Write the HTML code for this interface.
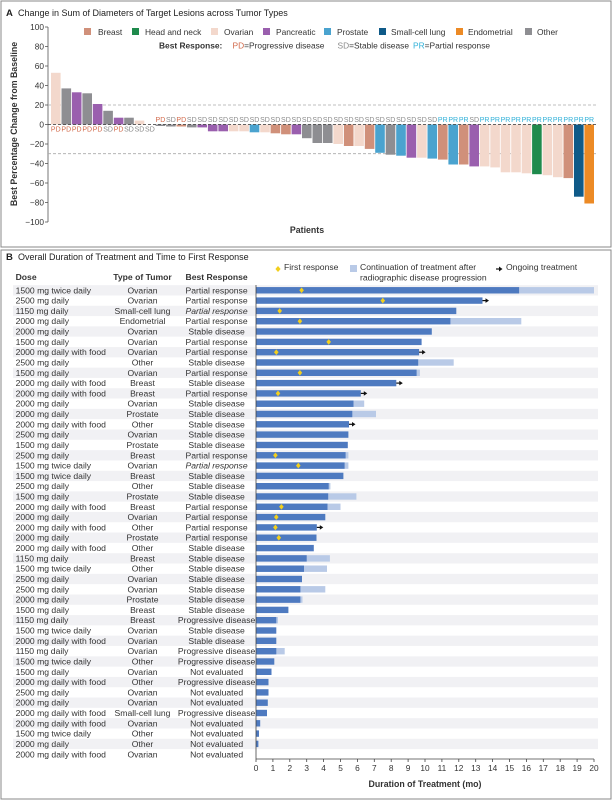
<!DOCTYPE html>
<html><head><meta charset="utf-8"><style>
html,body{margin:0;padding:0;background:#fff}
svg{display:block;font-family:"Liberation Sans",sans-serif}
.t{font-size:8.6px;fill:#333}
.c{text-anchor:middle}
.pd{fill:#d2694a;font-size:7px;text-anchor:middle}
.sd{fill:#8a8a8a;font-size:7px;text-anchor:middle}
.pr{fill:#2fb0d8;font-size:7px;text-anchor:middle}
.br{fill:#d0907a}.hn{fill:#1f8a4c}.ov{fill:#f3d8cc}.pa{fill:#9a5fae}.pro{fill:#4aa3cf}.sc{fill:#0f5a88}.en{fill:#ec8a25}.ot{fill:#8e8e92}
.d{fill:#4e7ac0}.l{fill:#b9cae7}.s{fill:#f1f1f4}.fr{fill:#f2cf1d}
</style></head><body>
<svg width="612" height="800" viewBox="0 0 612 800" xmlns="http://www.w3.org/2000/svg">
<rect x="1" y="1" width="610" height="246" fill="none" stroke="#8a8a8a" stroke-width="1"/>
<rect x="1" y="250" width="610" height="549" fill="none" stroke="#8a8a8a" stroke-width="1"/>
<!-- Panel A -->
<text x="6" y="16" style="font-size:9.5px;font-weight:bold" fill="#222">A</text>
<text x="18" y="16" style="font-size:9px" fill="#222">Change in Sum of Diameters of Target Lesions across Tumor Types</text>
<line x1="48" y1="27" x2="48" y2="222" stroke="#555" stroke-width="0.8"/>
<g class="t" style="font-size:8.3px;text-anchor:end">
<text x="44" y="30">100</text><text x="44" y="49.5">80</text><text x="44" y="69">60</text><text x="44" y="88.5">40</text><text x="44" y="108">20</text><text x="44" y="127.5">0</text><text x="44" y="147">−20</text><text x="44" y="166.5">−40</text><text x="44" y="186">−60</text><text x="44" y="205.5">−80</text><text x="44" y="225">−100</text>
</g>
<g stroke="#555" stroke-width="0.8">
<line x1="45" y1="27" x2="48" y2="27"/><line x1="45" y1="46.5" x2="48" y2="46.5"/><line x1="45" y1="66" x2="48" y2="66"/><line x1="45" y1="85.5" x2="48" y2="85.5"/><line x1="45" y1="105" x2="48" y2="105"/><line x1="45" y1="124.5" x2="48" y2="124.5"/><line x1="45" y1="144" x2="48" y2="144"/><line x1="45" y1="163.5" x2="48" y2="163.5"/><line x1="45" y1="183" x2="48" y2="183"/><line x1="45" y1="202.5" x2="48" y2="202.5"/><line x1="45" y1="222" x2="48" y2="222"/>
</g>
<text transform="translate(17,124) rotate(-90)" text-anchor="middle" style="font-size:8.8px;font-weight:bold" fill="#333">Best Percentage Change from Baseline</text>
<text x="307" y="233" text-anchor="middle" style="font-size:8.8px;font-weight:bold" fill="#333">Patients</text>
<line x1="48" y1="105" x2="598" y2="105" stroke="#aaa" stroke-width="0.8" stroke-dasharray="3,2"/>
<line x1="48" y1="153.7" x2="598" y2="153.7" stroke="#aaa" stroke-width="0.8" stroke-dasharray="3,2"/>
<!-- legend -->
<g class="t" style="font-size:8.4px">
<rect x="84" y="28" width="7" height="7" class="br"/><text x="98" y="35">Breast</text>
<rect x="132" y="28" width="7" height="7" class="hn"/><text x="145" y="35">Head and neck</text>
<rect x="211" y="28" width="7" height="7" class="ov"/><text x="224" y="35">Ovarian</text>
<rect x="263" y="28" width="7" height="7" class="pa"/><text x="276" y="35">Pancreatic</text>
<rect x="324" y="28" width="7" height="7" class="pro"/><text x="337" y="35">Prostate</text>
<rect x="379" y="28" width="7" height="7" class="sc"/><text x="391" y="35">Small-cell lung</text>
<rect x="456" y="28" width="7" height="7" class="en"/><text x="468" y="35">Endometrial</text>
<rect x="525" y="28" width="7" height="7" class="ot"/><text x="537" y="35">Other</text>
<text x="159" y="48.5" style="font-weight:bold">Best Response:</text>
<text x="232.5" y="48.5"><tspan fill="#d2694a">PD</tspan>=Progressive disease</text>
<text x="337.5" y="48.5"><tspan fill="#8a8a8a">SD</tspan>=Stable disease</text>
<text x="413" y="48.5"><tspan fill="#2fb0d8">PR</tspan>=Partial response</text>
</g>
<!-- bars -->
<g>
<rect class="ov" x="51.0" y="72.8" width="9.6" height="51.7"/>
<rect class="ot" x="61.5" y="88.4" width="9.6" height="36.1"/>
<rect class="pa" x="71.9" y="92.3" width="9.6" height="32.2"/>
<rect class="ot" x="82.4" y="93.3" width="9.6" height="31.2"/>
<rect class="pa" x="92.8" y="104" width="9.6" height="20.5"/>
<rect class="ot" x="103.3" y="110.8" width="9.6" height="13.7"/>
<rect class="pa" x="113.8" y="117.7" width="9.6" height="6.8"/>
<rect class="ot" x="124.2" y="117.7" width="9.6" height="6.8"/>
<rect class="ov" x="134.7" y="120.6" width="9.6" height="3.9"/>
<rect class="ot" x="155.6" y="124.5" width="9.6" height="1.5"/>
<rect class="ot" x="166.1" y="124.5" width="9.6" height="2"/>
<rect class="br" x="176.5" y="124.5" width="9.6" height="2"/>
<rect class="ot" x="187.0" y="124.5" width="9.6" height="2.9"/>
<rect class="pa" x="197.4" y="124.5" width="9.6" height="2.9"/>
<rect class="pa" x="207.9" y="124.5" width="9.6" height="6.8"/>
<rect class="pa" x="218.4" y="124.5" width="9.6" height="6.8"/>
<rect class="ov" x="228.8" y="124.5" width="9.6" height="6.8"/>
<rect class="ov" x="239.3" y="124.5" width="9.6" height="6.8"/>
<rect class="pro" x="249.7" y="124.5" width="9.6" height="7.8"/>
<rect class="ov" x="260.2" y="124.5" width="9.6" height="7.8"/>
<rect class="br" x="270.6" y="124.5" width="9.6" height="8.8"/>
<rect class="br" x="281.1" y="124.5" width="9.6" height="9.8"/>
<rect class="pa" x="291.6" y="124.5" width="9.6" height="9.8"/>
<rect class="ot" x="302.0" y="124.5" width="9.6" height="13.7"/>
<rect class="ot" x="312.5" y="124.5" width="9.6" height="18.5"/>
<rect class="ot" x="322.9" y="124.5" width="9.6" height="18.5"/>
<rect class="ov" x="333.4" y="124.5" width="9.6" height="19.5"/>
<rect class="br" x="343.9" y="124.5" width="9.6" height="21.5"/>
<rect class="ov" x="354.3" y="124.5" width="9.6" height="21.5"/>
<rect class="br" x="364.8" y="124.5" width="9.6" height="24.4"/>
<rect class="pro" x="375.2" y="124.5" width="9.6" height="28.3"/>
<rect class="ot" x="385.7" y="124.5" width="9.6" height="30.2"/>
<rect class="pro" x="396.2" y="124.5" width="9.6" height="31.2"/>
<rect class="pa" x="406.6" y="124.5" width="9.6" height="33.2"/>
<rect class="ov" x="417.1" y="124.5" width="9.6" height="33.2"/>
<rect class="pro" x="427.5" y="124.5" width="9.6" height="34.1"/>
<rect class="br" x="438.0" y="124.5" width="9.6" height="35.1"/>
<rect class="pro" x="448.4" y="124.5" width="9.6" height="40"/>
<rect class="br" x="458.9" y="124.5" width="9.6" height="40"/>
<rect class="pa" x="469.4" y="124.5" width="9.6" height="41.9"/>
<rect class="ov" x="479.8" y="124.5" width="9.6" height="41.9"/>
<rect class="ov" x="490.3" y="124.5" width="9.6" height="42.9"/>
<rect class="ov" x="500.7" y="124.5" width="9.6" height="47.8"/>
<rect class="ov" x="511.2" y="124.5" width="9.6" height="47.8"/>
<rect class="ov" x="521.7" y="124.5" width="9.6" height="48.8"/>
<rect class="hn" x="532.1" y="124.5" width="9.6" height="49.7"/>
<rect class="ov" x="542.6" y="124.5" width="9.6" height="50.7"/>
<rect class="ov" x="553.0" y="124.5" width="9.6" height="52.7"/>
<rect class="br" x="563.5" y="124.5" width="9.6" height="53.6"/>
<rect class="sc" x="574.0" y="124.5" width="9.6" height="72.2"/>
<rect class="en" x="584.4" y="124.5" width="9.6" height="79"/>
</g>
<line x1="48" y1="124.5" x2="598" y2="124.5" stroke="#333" stroke-width="0.8" stroke-dasharray="3,2"/>
<g>
<text class="pd" x="55.8" y="131.5">PD</text><text class="pd" x="66.3" y="131.5">PD</text><text class="pd" x="76.7" y="131.5">PD</text><text class="pd" x="87.2" y="131.5">PD</text><text class="pd" x="97.6" y="131.5">PD</text><text class="sd" x="108.1" y="131.5">SD</text><text class="pd" x="118.6" y="131.5">PD</text><text class="sd" x="129.0" y="131.5">SD</text><text class="sd" x="139.5" y="131.5">SD</text><text class="sd" x="149.9" y="131.5">SD</text>
<text class="pd" x="160.4" y="122">PD</text><text class="sd" x="170.9" y="122">SD</text><text class="pd" x="181.3" y="122">PD</text><text class="sd" x="191.8" y="122">SD</text><text class="sd" x="202.2" y="122">SD</text><text class="sd" x="212.7" y="122">SD</text><text class="sd" x="223.2" y="122">SD</text><text class="sd" x="233.6" y="122">SD</text><text class="sd" x="244.1" y="122">SD</text><text class="sd" x="254.5" y="122">SD</text><text class="sd" x="265.0" y="122">SD</text><text class="sd" x="275.4" y="122">SD</text><text class="sd" x="285.9" y="122">SD</text><text class="sd" x="296.4" y="122">SD</text><text class="sd" x="306.8" y="122">SD</text><text class="sd" x="317.3" y="122">SD</text><text class="sd" x="327.7" y="122">SD</text><text class="sd" x="338.2" y="122">SD</text><text class="sd" x="348.7" y="122">SD</text><text class="sd" x="359.1" y="122">SD</text><text class="sd" x="369.6" y="122">SD</text><text class="sd" x="380.0" y="122">SD</text><text class="sd" x="390.5" y="122">SD</text><text class="sd" x="401.0" y="122">SD</text><text class="sd" x="411.4" y="122">SD</text><text class="sd" x="421.9" y="122">SD</text><text class="sd" x="432.3" y="122">SD</text><text class="pr" x="442.8" y="122">PR</text><text class="pr" x="453.2" y="122">PR</text><text class="pr" x="463.7" y="122">PR</text><text class="sd" x="474.2" y="122">SD</text><text class="pr" x="484.6" y="122">PR</text><text class="pr" x="495.1" y="122">PR</text><text class="pr" x="505.5" y="122">PR</text><text class="pr" x="516.0" y="122">PR</text><text class="pr" x="526.5" y="122">PR</text><text class="pr" x="536.9" y="122">PR</text><text class="pr" x="547.4" y="122">PR</text><text class="pr" x="557.8" y="122">PR</text><text class="pr" x="568.3" y="122">PR</text><text class="pr" x="578.8" y="122">PR</text><text class="pr" x="589.2" y="122">PR</text>
</g>
<!-- Panel B -->
<text x="6" y="260" style="font-size:9.5px;font-weight:bold" fill="#222">B</text>
<text x="18" y="260" style="font-size:9px" fill="#222">Overall Duration of Treatment and Time to First Response</text>
<g class="t" style="font-weight:bold">
<text x="15.6" y="280">Dose</text><text class="c" x="142.5" y="280">Type of Tumor</text><text class="c" x="216.6" y="280">Best Response</text>
</g>
<g class="t">
<path d="M278 266 l2.6 3 l-2.6 3 l-2.6 -3z" class="fr"/><text x="284" y="270">First response</text>
<rect x="350" y="265" width="7" height="7" class="l"/><text x="360" y="270">Continuation of treatment after</text><text x="360" y="280.5">radiographic disease progression</text>
<line x1="496" y1="269" x2="500" y2="269" stroke="#111" stroke-width="1.2"/><path d="M499 266.5 l3.5 2.5 l-3.5 2.5z" fill="#111"/><text x="506" y="270">Ongoing treatment</text>
</g>
<g class="t">
<g transform="translate(0,290.3)"><rect class="s" x="13" y="-5.15" width="585" height="10.3"/><text x="15.6" y="3">1500 mg twice daily</text><text class="c" x="142.5" y="3">Ovarian</text><text class="c" x="216.6" y="3">Partial response</text><rect class="l" x="256" y="-3.2" width="338" height="6.4"/><rect class="d" x="256" y="-3.2" width="263.1" height="6.4"/><path class="fr" d="M301.6 -2.8 l2.3 2.8 l-2.3 2.8 l-2.3 -2.8z"/></g>
<g transform="translate(0,300.6)"><text x="15.6" y="3">2500 mg daily</text><text class="c" x="142.5" y="3">Ovarian</text><text class="c" x="216.6" y="3">Partial response</text><rect class="d" x="256" y="-3.2" width="226.5" height="6.4"/><path class="fr" d="M382.8 -2.8 l2.3 2.8 l-2.3 2.8 l-2.3 -2.8z"/><line x1="482.5" y1="0" x2="486.5" y2="0" stroke="#111" stroke-width="1.2"/><path d="M485.5 -2.3 l3.5 2.3 l-3.5 2.3z" fill="#111"/></g>
<g transform="translate(0,310.9)"><rect class="s" x="13" y="-5.15" width="585" height="10.3"/><text x="15.6" y="3">1150 mg daily</text><text class="c" x="142.5" y="3">Small-cell lung</text><text class="c" x="216.6" y="3" font-style="italic">Partial response</text><rect class="d" x="256" y="-3.2" width="200.3" height="6.4"/><path class="fr" d="M279.7 -2.8 l2.3 2.8 l-2.3 2.8 l-2.3 -2.8z"/></g>
<g transform="translate(0,321.2)"><text x="15.6" y="3">2000 mg daily</text><text class="c" x="142.5" y="3">Endometrial</text><text class="c" x="216.6" y="3">Partial response</text><rect class="l" x="256" y="-3.2" width="265.3" height="6.4"/><rect class="d" x="256" y="-3.2" width="194.4" height="6.4"/><path class="fr" d="M299.9 -2.8 l2.3 2.8 l-2.3 2.8 l-2.3 -2.8z"/></g>
<g transform="translate(0,331.5)"><rect class="s" x="13" y="-5.15" width="585" height="10.3"/><text x="15.6" y="3">2000 mg daily</text><text class="c" x="142.5" y="3">Ovarian</text><text class="c" x="216.6" y="3">Stable disease</text><rect class="d" x="256" y="-3.2" width="175.8" height="6.4"/></g>
<g transform="translate(0,341.9)"><text x="15.6" y="3">1500 mg daily</text><text class="c" x="142.5" y="3">Ovarian</text><text class="c" x="216.6" y="3">Partial response</text><rect class="d" x="256" y="-3.2" width="165.6" height="6.4"/><path class="fr" d="M328.7 -2.8 l2.3 2.8 l-2.3 2.8 l-2.3 -2.8z"/></g>
<g transform="translate(0,352.2)"><rect class="s" x="13" y="-5.15" width="585" height="10.3"/><text x="15.6" y="3">2000 mg daily with food</text><text class="c" x="142.5" y="3">Ovarian</text><text class="c" x="216.6" y="3">Partial response</text><rect class="d" x="256" y="-3.2" width="163.1" height="6.4"/><path class="fr" d="M276.3 -2.8 l2.3 2.8 l-2.3 2.8 l-2.3 -2.8z"/><line x1="419.1" y1="0" x2="423.1" y2="0" stroke="#111" stroke-width="1.2"/><path d="M422.1 -2.3 l3.5 2.3 l-3.5 2.3z" fill="#111"/></g>
<g transform="translate(0,362.5)"><text x="15.6" y="3">2500 mg daily</text><text class="c" x="142.5" y="3">Other</text><text class="c" x="216.6" y="3">Stable disease</text><rect class="l" x="256" y="-3.2" width="197.7" height="6.4"/><rect class="d" x="256" y="-3.2" width="162.2" height="6.4"/></g>
<g transform="translate(0,372.8)"><rect class="s" x="13" y="-5.15" width="585" height="10.3"/><text x="15.6" y="3">1500 mg daily</text><text class="c" x="142.5" y="3">Ovarian</text><text class="c" x="216.6" y="3">Partial response</text><rect class="l" x="256" y="-3.2" width="163.9" height="6.4"/><rect class="d" x="256" y="-3.2" width="160.6" height="6.4"/><path class="fr" d="M299.9 -2.8 l2.3 2.8 l-2.3 2.8 l-2.3 -2.8z"/></g>
<g transform="translate(0,383.1)"><text x="15.6" y="3">2000 mg daily with food</text><text class="c" x="142.5" y="3">Breast</text><text class="c" x="216.6" y="3">Stable disease</text><rect class="d" x="256" y="-3.2" width="140.3" height="6.4"/><line x1="396.3" y1="0" x2="400.3" y2="0" stroke="#111" stroke-width="1.2"/><path d="M399.3 -2.3 l3.5 2.3 l-3.5 2.3z" fill="#111"/></g>
<g transform="translate(0,393.4)"><rect class="s" x="13" y="-5.15" width="585" height="10.3"/><text x="15.6" y="3">2000 mg daily with food</text><text class="c" x="142.5" y="3">Breast</text><text class="c" x="216.6" y="3">Partial response</text><rect class="d" x="256" y="-3.2" width="104.8" height="6.4"/><path class="fr" d="M278 -2.8 l2.3 2.8 l-2.3 2.8 l-2.3 -2.8z"/><line x1="360.8" y1="0" x2="364.8" y2="0" stroke="#111" stroke-width="1.2"/><path d="M363.8 -2.3 l3.5 2.3 l-3.5 2.3z" fill="#111"/></g>
<g transform="translate(0,403.7)"><text x="15.6" y="3">2000 mg daily</text><text class="c" x="142.5" y="3">Ovarian</text><text class="c" x="216.6" y="3">Stable disease</text><rect class="l" x="256" y="-3.2" width="108.2" height="6.4"/><rect class="d" x="256" y="-3.2" width="97.5" height="6.4"/></g>
<g transform="translate(0,414.0)"><rect class="s" x="13" y="-5.15" width="585" height="10.3"/><text x="15.6" y="3">2000 mg daily</text><text class="c" x="142.5" y="3">Prostate</text><text class="c" x="216.6" y="3">Stable disease</text><rect class="l" x="256" y="-3.2" width="120" height="6.4"/><rect class="d" x="256" y="-3.2" width="96.3" height="6.4"/></g>
<g transform="translate(0,424.3)"><text x="15.6" y="3">2000 mg daily with food</text><text class="c" x="142.5" y="3">Other</text><text class="c" x="216.6" y="3">Stable disease</text><rect class="d" x="256" y="-3.2" width="93" height="6.4"/><line x1="349" y1="0" x2="353" y2="0" stroke="#111" stroke-width="1.2"/><path d="M352 -2.3 l3.5 2.3 l-3.5 2.3z" fill="#111"/></g>
<g transform="translate(0,434.6)"><rect class="s" x="13" y="-5.15" width="585" height="10.3"/><text x="15.6" y="3">2500 mg daily</text><text class="c" x="142.5" y="3">Ovarian</text><text class="c" x="216.6" y="3">Stable disease</text><rect class="d" x="256" y="-3.2" width="92.4" height="6.4"/></g>
<g transform="translate(0,445.0)"><text x="15.6" y="3">1500 mg daily</text><text class="c" x="142.5" y="3">Prostate</text><text class="c" x="216.6" y="3">Stable disease</text><rect class="d" x="256" y="-3.2" width="91.8" height="6.4"/></g>
<g transform="translate(0,455.3)"><rect class="s" x="13" y="-5.15" width="585" height="10.3"/><text x="15.6" y="3">2500 mg daily</text><text class="c" x="142.5" y="3">Breast</text><text class="c" x="216.6" y="3">Partial response</text><rect class="l" x="256" y="-3.2" width="92.4" height="6.4"/><rect class="d" x="256" y="-3.2" width="89.6" height="6.4"/><path class="fr" d="M275.4 -2.8 l2.3 2.8 l-2.3 2.8 l-2.3 -2.8z"/></g>
<g transform="translate(0,465.6)"><text x="15.6" y="3">1500 mg twice daily</text><text class="c" x="142.5" y="3">Ovarian</text><text class="c" x="216.6" y="3" font-style="italic">Partial response</text><rect class="l" x="256" y="-3.2" width="92.4" height="6.4"/><rect class="d" x="256" y="-3.2" width="88.6" height="6.4"/><path class="fr" d="M298.3 -2.8 l2.3 2.8 l-2.3 2.8 l-2.3 -2.8z"/></g>
<g transform="translate(0,475.9)"><rect class="s" x="13" y="-5.15" width="585" height="10.3"/><text x="15.6" y="3">1500 mg twice daily</text><text class="c" x="142.5" y="3">Breast</text><text class="c" x="216.6" y="3">Stable disease</text><rect class="d" x="256" y="-3.2" width="87.4" height="6.4"/></g>
<g transform="translate(0,486.2)"><text x="15.6" y="3">2500 mg daily</text><text class="c" x="142.5" y="3">Other</text><text class="c" x="216.6" y="3">Stable disease</text><rect class="l" x="256" y="-3.2" width="74.4" height="6.4"/><rect class="d" x="256" y="-3.2" width="72.7" height="6.4"/></g>
<g transform="translate(0,496.5)"><rect class="s" x="13" y="-5.15" width="585" height="10.3"/><text x="15.6" y="3">1500 mg daily</text><text class="c" x="142.5" y="3">Prostate</text><text class="c" x="216.6" y="3">Stable disease</text><rect class="l" x="256" y="-3.2" width="100.4" height="6.4"/><rect class="d" x="256" y="-3.2" width="72.2" height="6.4"/></g>
<g transform="translate(0,506.8)"><text x="15.6" y="3">2000 mg daily with food</text><text class="c" x="142.5" y="3">Breast</text><text class="c" x="216.6" y="3">Partial response</text><rect class="l" x="256" y="-3.2" width="84.5" height="6.4"/><rect class="d" x="256" y="-3.2" width="71.5" height="6.4"/><path class="fr" d="M281.4 -2.8 l2.3 2.8 l-2.3 2.8 l-2.3 -2.8z"/></g>
<g transform="translate(0,517.1)"><rect class="s" x="13" y="-5.15" width="585" height="10.3"/><text x="15.6" y="3">2000 mg daily</text><text class="c" x="142.5" y="3">Ovarian</text><text class="c" x="216.6" y="3">Partial response</text><rect class="d" x="256" y="-3.2" width="69.3" height="6.4"/><path class="fr" d="M276.3 -2.8 l2.3 2.8 l-2.3 2.8 l-2.3 -2.8z"/></g>
<g transform="translate(0,527.4)"><text x="15.6" y="3">2000 mg daily with food</text><text class="c" x="142.5" y="3">Other</text><text class="c" x="216.6" y="3">Partial response</text><rect class="d" x="256" y="-3.2" width="60.8" height="6.4"/><path class="fr" d="M275.4 -2.8 l2.3 2.8 l-2.3 2.8 l-2.3 -2.8z"/><line x1="316.8" y1="0" x2="320.8" y2="0" stroke="#111" stroke-width="1.2"/><path d="M319.8 -2.3 l3.5 2.3 l-3.5 2.3z" fill="#111"/></g>
<g transform="translate(0,537.7)"><rect class="s" x="13" y="-5.15" width="585" height="10.3"/><text x="15.6" y="3">2000 mg daily</text><text class="c" x="142.5" y="3">Prostate</text><text class="c" x="216.6" y="3">Partial response</text><rect class="d" x="256" y="-3.2" width="60.5" height="6.4"/><path class="fr" d="M278.8 -2.8 l2.3 2.8 l-2.3 2.8 l-2.3 -2.8z"/></g>
<g transform="translate(0,548.1)"><text x="15.6" y="3">2000 mg daily with food</text><text class="c" x="142.5" y="3">Other</text><text class="c" x="216.6" y="3">Stable disease</text><rect class="d" x="256" y="-3.2" width="57.8" height="6.4"/></g>
<g transform="translate(0,558.4)"><rect class="s" x="13" y="-5.15" width="585" height="10.3"/><text x="15.6" y="3">1150 mg daily</text><text class="c" x="142.5" y="3">Breast</text><text class="c" x="216.6" y="3">Stable disease</text><rect class="l" x="256" y="-3.2" width="73.9" height="6.4"/><rect class="d" x="256" y="-3.2" width="50.7" height="6.4"/></g>
<g transform="translate(0,568.7)"><text x="15.6" y="3">1500 mg twice daily</text><text class="c" x="142.5" y="3">Other</text><text class="c" x="216.6" y="3">Stable disease</text><rect class="l" x="256" y="-3.2" width="71" height="6.4"/><rect class="d" x="256" y="-3.2" width="48" height="6.4"/></g>
<g transform="translate(0,579.0)"><rect class="s" x="13" y="-5.15" width="585" height="10.3"/><text x="15.6" y="3">2500 mg daily</text><text class="c" x="142.5" y="3">Ovarian</text><text class="c" x="216.6" y="3">Stable disease</text><rect class="d" x="256" y="-3.2" width="46" height="6.4"/></g>
<g transform="translate(0,589.3)"><text x="15.6" y="3">2500 mg daily</text><text class="c" x="142.5" y="3">Ovarian</text><text class="c" x="216.6" y="3">Stable disease</text><rect class="l" x="256" y="-3.2" width="69.3" height="6.4"/><rect class="d" x="256" y="-3.2" width="44.4" height="6.4"/></g>
<g transform="translate(0,599.6)"><rect class="s" x="13" y="-5.15" width="585" height="10.3"/><text x="15.6" y="3">2000 mg daily</text><text class="c" x="142.5" y="3">Prostate</text><text class="c" x="216.6" y="3">Stable disease</text><rect class="l" x="256" y="-3.2" width="46.5" height="6.4"/><rect class="d" x="256" y="-3.2" width="44.4" height="6.4"/></g>
<g transform="translate(0,609.9)"><text x="15.6" y="3">1500 mg daily</text><text class="c" x="142.5" y="3">Breast</text><text class="c" x="216.6" y="3">Stable disease</text><rect class="d" x="256" y="-3.2" width="32.4" height="6.4"/></g>
<g transform="translate(0,620.2)"><rect class="s" x="13" y="-5.15" width="585" height="10.3"/><text x="15.6" y="3">1150 mg daily</text><text class="c" x="142.5" y="3">Breast</text><text class="c" x="216.6" y="3">Progressive disease</text><rect class="l" x="256" y="-3.2" width="22" height="6.4"/><rect class="d" x="256" y="-3.2" width="20.3" height="6.4"/></g>
<g transform="translate(0,630.5)"><text x="15.6" y="3">1500 mg twice daily</text><text class="c" x="142.5" y="3">Ovarian</text><text class="c" x="216.6" y="3">Stable disease</text><rect class="d" x="256" y="-3.2" width="20.3" height="6.4"/></g>
<g transform="translate(0,640.8)"><rect class="s" x="13" y="-5.15" width="585" height="10.3"/><text x="15.6" y="3">2000 mg daily with food</text><text class="c" x="142.5" y="3">Ovarian</text><text class="c" x="216.6" y="3">Stable disease</text><rect class="d" x="256" y="-3.2" width="20.3" height="6.4"/></g>
<g transform="translate(0,651.2)"><text x="15.6" y="3">1150 mg daily</text><text class="c" x="142.5" y="3">Ovarian</text><text class="c" x="216.6" y="3">Progressive disease</text><rect class="l" x="256" y="-3.2" width="28.7" height="6.4"/><rect class="d" x="256" y="-3.2" width="20.3" height="6.4"/></g>
<g transform="translate(0,661.5)"><rect class="s" x="13" y="-5.15" width="585" height="10.3"/><text x="15.6" y="3">1500 mg twice daily</text><text class="c" x="142.5" y="3">Other</text><text class="c" x="216.6" y="3">Progressive disease</text><rect class="d" x="256" y="-3.2" width="18.3" height="6.4"/></g>
<g transform="translate(0,671.8)"><text x="15.6" y="3">1500 mg daily</text><text class="c" x="142.5" y="3">Ovarian</text><text class="c" x="216.6" y="3">Not evaluated</text><rect class="d" x="256" y="-3.2" width="15.5" height="6.4"/></g>
<g transform="translate(0,682.1)"><rect class="s" x="13" y="-5.15" width="585" height="10.3"/><text x="15.6" y="3">2000 mg daily with food</text><text class="c" x="142.5" y="3">Other</text><text class="c" x="216.6" y="3">Progressive disease</text><rect class="d" x="256" y="-3.2" width="12.5" height="6.4"/></g>
<g transform="translate(0,692.4)"><text x="15.6" y="3">2500 mg daily</text><text class="c" x="142.5" y="3">Ovarian</text><text class="c" x="216.6" y="3">Not evaluated</text><rect class="d" x="256" y="-3.2" width="12.5" height="6.4"/></g>
<g transform="translate(0,702.7)"><rect class="s" x="13" y="-5.15" width="585" height="10.3"/><text x="15.6" y="3">2000 mg daily</text><text class="c" x="142.5" y="3">Ovarian</text><text class="c" x="216.6" y="3">Not evaluated</text><rect class="d" x="256" y="-3.2" width="11.8" height="6.4"/></g>
<g transform="translate(0,713.0)"><text x="15.6" y="3">2000 mg daily with food</text><text class="c" x="142.5" y="3">Small-cell lung</text><text class="c" x="216.6" y="3">Progressive disease</text><rect class="d" x="256" y="-3.2" width="11" height="6.4"/></g>
<g transform="translate(0,723.3)"><rect class="s" x="13" y="-5.15" width="585" height="10.3"/><text x="15.6" y="3">2000 mg daily with food</text><text class="c" x="142.5" y="3">Ovarian</text><text class="c" x="216.6" y="3">Not evaluated</text><rect class="d" x="256" y="-3.2" width="4.2" height="6.4"/></g>
<g transform="translate(0,733.6)"><text x="15.6" y="3">1500 mg twice daily</text><text class="c" x="142.5" y="3">Other</text><text class="c" x="216.6" y="3">Not evaluated</text><rect class="d" x="256" y="-3.2" width="3" height="6.4"/></g>
<g transform="translate(0,743.9)"><rect class="s" x="13" y="-5.15" width="585" height="10.3"/><text x="15.6" y="3">2000 mg daily</text><text class="c" x="142.5" y="3">Other</text><text class="c" x="216.6" y="3">Not evaluated</text><rect class="d" x="256" y="-3.2" width="2.4" height="6.4"/></g>
<g transform="translate(0,754.3)"><text x="15.6" y="3">2000 mg daily with food</text><text class="c" x="142.5" y="3">Ovarian</text><text class="c" x="216.6" y="3">Not evaluated</text></g>
</g>
<!-- B axes -->
<line x1="256" y1="285" x2="256" y2="759" stroke="#444" stroke-width="0.8"/>
<line x1="256" y1="759" x2="594" y2="759" stroke="#444" stroke-width="0.8"/>
<g stroke="#444" stroke-width="0.8">
<line x1="256" y1="759" x2="256" y2="762"/><line x1="272.9" y1="759" x2="272.9" y2="762"/><line x1="289.8" y1="759" x2="289.8" y2="762"/><line x1="306.7" y1="759" x2="306.7" y2="762"/><line x1="323.6" y1="759" x2="323.6" y2="762"/><line x1="340.5" y1="759" x2="340.5" y2="762"/><line x1="357.4" y1="759" x2="357.4" y2="762"/><line x1="374.3" y1="759" x2="374.3" y2="762"/><line x1="391.2" y1="759" x2="391.2" y2="762"/><line x1="408.1" y1="759" x2="408.1" y2="762"/><line x1="425" y1="759" x2="425" y2="762"/><line x1="441.9" y1="759" x2="441.9" y2="762"/><line x1="458.8" y1="759" x2="458.8" y2="762"/><line x1="475.7" y1="759" x2="475.7" y2="762"/><line x1="492.6" y1="759" x2="492.6" y2="762"/><line x1="509.5" y1="759" x2="509.5" y2="762"/><line x1="526.4" y1="759" x2="526.4" y2="762"/><line x1="543.3" y1="759" x2="543.3" y2="762"/><line x1="560.2" y1="759" x2="560.2" y2="762"/><line x1="577.1" y1="759" x2="577.1" y2="762"/><line x1="594" y1="759" x2="594" y2="762"/>
</g>
<g class="t c" style="font-size:8.3px">
<text x="256" y="771">0</text><text x="272.9" y="771">1</text><text x="289.8" y="771">2</text><text x="306.7" y="771">3</text><text x="323.6" y="771">4</text><text x="340.5" y="771">5</text><text x="357.4" y="771">6</text><text x="374.3" y="771">7</text><text x="391.2" y="771">8</text><text x="408.1" y="771">9</text><text x="425" y="771">10</text><text x="441.9" y="771">11</text><text x="458.8" y="771">12</text><text x="475.7" y="771">13</text><text x="492.6" y="771">14</text><text x="509.5" y="771">15</text><text x="526.4" y="771">16</text><text x="543.3" y="771">17</text><text x="560.2" y="771">18</text><text x="577.1" y="771">19</text><text x="594" y="771">20</text>
</g>
<text x="425" y="787" text-anchor="middle" style="font-size:8.8px;font-weight:bold" fill="#333">Duration of Treatment (mo)</text>
</svg>
</body></html>
